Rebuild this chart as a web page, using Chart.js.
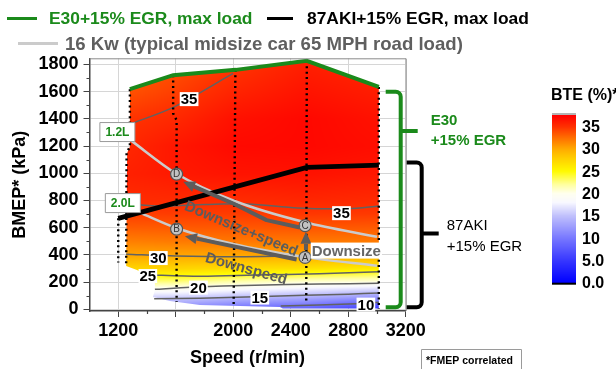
<!DOCTYPE html>
<html>
<head>
<meta charset="utf-8">
<script src="https://cdn.jsdelivr.net/npm/chart.js@4.4.1/dist/chart.umd.min.js"></script>
<style>
  html, body { margin: 0; padding: 0; background: #fff; }
</style>
</head>
<body>
<canvas id="bteMap" width="616" height="369"></canvas>
<script>
// ---- data ----
// BTE (%) map: rows follow BMEPS (kPa), columns follow SPEEDS (r/min)
const SPEEDS = [1250, 1600, 2000, 2500, 3000];
const BMEPS = [0, 100, 200, 300, 400, 500, 600, 700, 800, 1000, 1200, 1400, 1600, 1800];
const BTE = [
    [11, 11, 9, 8, 5],
    [16.5, 16.5, 15.5, 14.5, 13],
    [22.5, 22.5, 21.5, 20.5, 20.2],
    [27.5, 27.5, 27, 26.7, 26],
    [30.2, 30.2, 30.2, 30.1, 30],
    [31.8, 32, 32.1, 32.1, 32],
    [33.2, 33.3, 33.4, 33.5, 33.3],
    [34.4, 34.5, 34.5, 34.7, 34.6],
    [35.2, 35.3, 35.2, 35.5, 35.3],
    [35.8, 36.2, 36.5, 36.6, 36.3],
    [35.4, 36.3, 37, 37.1, 36.8],
    [34.8, 35.4, 36.6, 37.1, 36.6],
    [33.6, 34.4, 35.6, 36.5, 36],
    [33, 33.6, 34.7, 35.9, 35.4]
];

// max load lines
const E30_SPEED = [1281, 1582, 2018, 2512, 3013];
const E30_BMEP = [1618, 1721, 1760, 1826, 1635];
const AKI_SPEED = [1200, 2512, 3013];
const AKI_BMEP = [669, 1043, 1060];

// outline of the measured map below the E30 line (right, bottom, left sides)
const EDGE_SPEED = [3013, 2345, 2325, 1768, 1559, 1441, 1455, 1455, 1330, 1255, 1262, 1281];
const EDGE_BMEP = [6, 6, 17, 32, 61, 90, 142, 216, 289, 318, 1150, 1195];

// 16 kW road load
const RL12_SPEED = [1290, 1600, 2000, 2500, 3000];
const RL12_BMEP = [1240, 1000, 800, 640, 533];
const RL20_SPEED = [1350, 1600, 2000, 2500, 3000];
const RL20_BMEP = [711, 600, 480, 384, 320];

// BTE contour lines
const ISO35_TOP_SPEED = [1281, 1582, 1999];
const ISO35_TOP_BMEP = [1361, 1484, 1734];
const ISO35_SPEED = [1255, 1500, 1800, 2100, 2450, 2800, 3013];
const ISO35_BMEP = [775, 760, 770, 775, 745, 740, 760];
const ISO30_SPEED = [1255, 1600, 2000, 2450, 3013];
const ISO30_BMEP = [405, 392, 386, 392, 398];
const ISO25_SPEED = [1380, 1770, 2150, 2600, 3013];
const ISO25_BMEP = [255, 243, 252, 262, 276];
const ISO20_SPEED = [1455, 1700, 2150, 2600, 3013];
const ISO20_BMEP = [147, 162, 178, 186, 192];
const ISO15_SPEED = [1450, 1770, 2150, 2500, 2800, 3013];
const ISO15_BMEP = [78, 82, 93, 103, 112, 120];
const ISO10_SPEED = [2330, 2860, 3013];
const ISO10_BMEP = [24, 42, 52];

const ISO_LABEL_TEXT = ['35', '35', '30', '25', '20', '15', '10'];
const ISO_LABEL_SPEED = [1693, 2753, 1479, 1406, 1758, 2185, 2923];
const ISO_LABEL_BMEP = [1545, 707, 377, 245, 160, 87, 35];

// speed sweeps (dotted columns)
const SWEEP_SPEED = [[1200, 1200], [1281, 1281, 1258, 1255], [1582, 1582, 1606, 1606], [2015, 2003], [2512, 2508], [3013, 3013]];
const SWEEP_BMEP = [[669, 345], [1618, 1195, 1150, 330], [1721, 1440, 1390, 55], [1760, 30], [1826, 40], [1635, 5]];

// operating points
const POINT_NAME = ['A', 'B', 'C', 'D'];
const POINT_SPEED = [2500, 1606, 2500, 1606];
const POINT_BMEP = [382, 590, 615, 994];

// arrows: downspeed, downsize+speed, downsize
const ARROW_SPEED = [[2441, 1664], [2464, 2232, 2000, 1652], [2506, 2506]];
const ARROW_BMEP = [[367, 538], [602, 656, 778, 937], [436, 570]];

// axis ticks
const X_TICKS = [1200, 1600, 2000, 2400, 2800, 3200];
const X_TICK_LABELS = ['1200', '', '2000', '2400', '2800', '3200'];
const X_MINOR = [1400, 1800, 2200, 2600, 3000];
const Y_TICKS = [0, 200, 400, 600, 800, 1000, 1200, 1400, 1600, 1800];
const Y_MINOR = [100, 300, 500, 700, 900, 1100, 1300, 1500, 1700];
const CB_TICKS = [35, 30, 25, 20, 15, 10, 5, 0];
const CB_TICK_LABELS = ['35', '30', '25', '20', '15', '10', '5.0', '0.0'];

// ---- styles ----
const FONT = '"Liberation Sans", Arial, sans-serif';
const GREEN = '#1b8a1b';
const ISO_GRAY = '#626262';
const ROAD_GRAY = '#cbcbcb';
const ARROW_GRAY = '#5c5c5c';
const CMAP = [
    [0, [0, 0, 255]], [5, [55, 55, 255]], [10, [120, 120, 255]], [15, [192, 192, 252]],
    [18, [248, 248, 255]], [20, [255, 255, 238]], [22, [255, 255, 160]], [25, [255, 250, 0]],
    [28, [255, 205, 0]], [30, [255, 170, 0]], [32.5, [255, 110, 0]], [35, [255, 48, 0]], [37.5, [255, 0, 0]]
];

const pts = (xs, ys) => xs.map((x, i) => ({x: x, y: ys[i]}));

function segIndex(arr, v) {
    for (let i = 0; i < arr.length - 2; i++) if (v < arr[i + 1]) return i;
    return arr.length - 2;
}
const clamp01 = t => Math.max(0, Math.min(1, t));

function bteAt(s, b) {
    const ci = segIndex(SPEEDS, s), ri = segIndex(BMEPS, b);
    const ts = clamp01((s - SPEEDS[ci]) / (SPEEDS[ci + 1] - SPEEDS[ci]));
    const tb = clamp01((b - BMEPS[ri]) / (BMEPS[ri + 1] - BMEPS[ri]));
    const lo = BTE[ri][ci] * (1 - ts) + BTE[ri][ci + 1] * ts;
    const hi = BTE[ri + 1][ci] * (1 - ts) + BTE[ri + 1][ci + 1] * ts;
    return lo * (1 - tb) + hi * tb;
}

function colorFor(v) {
    if (v <= CMAP[0][0]) return CMAP[0][1];
    for (let i = 1; i < CMAP.length; i++) {
        if (v <= CMAP[i][0]) {
            const t = (v - CMAP[i - 1][0]) / (CMAP[i][0] - CMAP[i - 1][0]);
            const a = CMAP[i - 1][1], b = CMAP[i][1];
            return [a[0] + (b[0] - a[0]) * t, a[1] + (b[1] - a[1]) * t, a[2] + (b[2] - a[2]) * t];
        }
    }
    return CMAP[CMAP.length - 1][1];
}

function line(xs, ys, color, width, order, extra) {
    return Object.assign({
        data: pts(xs, ys), showLine: true, borderColor: color, borderWidth: width,
        pointRadius: 0, pointHoverRadius: 0, fill: false, order: order
    }, extra || {});
}

function boxedText(ctx, text, x, y, font, size, color, padX, padY, border) {
    ctx.font = font;
    const w = ctx.measureText(text).width;
    ctx.fillStyle = '#fff';
    ctx.fillRect(x - w / 2 - padX, y - size / 2 - padY, w + 2 * padX, size + 2 * padY);
    if (border) {
        ctx.strokeStyle = border;
        ctx.lineWidth = 1;
        ctx.strokeRect(x - w / 2 - padX, y - size / 2 - padY, w + 2 * padX, size + 2 * padY);
    }
    ctx.fillStyle = color;
    ctx.textAlign = 'center';
    ctx.textBaseline = 'middle';
    ctx.fillText(text, x, y + 1);
}

function arrow(ctx, P, color) {
    const n = P.length;
    const tx = P[n - 1][0], ty = P[n - 1][1];
    const ang = Math.atan2(ty - P[n - 2][1], tx - P[n - 2][0]);
    const headL = 12, headW = 11;
    const bx = tx - headL * Math.cos(ang), by = ty - headL * Math.sin(ang);
    ctx.strokeStyle = color;
    ctx.lineWidth = 4;
    ctx.lineJoin = 'round';
    ctx.lineCap = 'butt';
    ctx.beginPath();
    ctx.moveTo(P[0][0], P[0][1]);
    for (let k = 1; k < n - 1; k++) ctx.lineTo(P[k][0], P[k][1]);
    ctx.lineTo(bx, by);
    ctx.stroke();
    ctx.fillStyle = color;
    ctx.beginPath();
    ctx.moveTo(tx, ty);
    ctx.lineTo(bx + headW / 2 * Math.sin(ang), by - headW / 2 * Math.cos(ang));
    ctx.lineTo(bx - headW / 2 * Math.sin(ang), by + headW / 2 * Math.cos(ang));
    ctx.closePath();
    ctx.fill();
}

// colour map of the BTE field, clipped to the measured region
const heatmapPlugin = {
    id: 'heatmap',
    beforeDatasetsDraw(chart) {
        const ctx = chart.ctx, a = chart.chartArea, x = chart.scales.x, y = chart.scales.y;
        const w = Math.ceil(a.right - a.left), h = Math.ceil(a.bottom - a.top);
        const off = document.createElement('canvas');
        off.width = w;
        off.height = h;
        const octx = off.getContext('2d');
        const img = octx.createImageData(w, h);
        for (let j = 0; j < h; j++) {
            const b = y.getValueForPixel(a.top + j + 0.5);
            for (let i = 0; i < w; i++) {
                const c = colorFor(bteAt(x.getValueForPixel(a.left + i + 0.5), b));
                const k = (j * w + i) * 4;
                img.data[k] = c[0];
                img.data[k + 1] = c[1];
                img.data[k + 2] = c[2];
                img.data[k + 3] = 255;
            }
        }
        octx.putImageData(img, 0, 0);
        const outlineS = E30_SPEED.concat(EDGE_SPEED), outlineB = E30_BMEP.concat(EDGE_BMEP);
        ctx.save();
        ctx.beginPath();
        outlineS.forEach((s, k) => {
            const px = x.getPixelForValue(s), py = y.getPixelForValue(outlineB[k]);
            if (k) ctx.lineTo(px, py); else ctx.moveTo(px, py);
        });
        ctx.closePath();
        ctx.clip();
        ctx.drawImage(off, a.left, a.top);
        ctx.restore();
    }
};

const notesPlugin = {
    id: 'notes',
    afterDatasetsDraw(chart) {
        const ctx = chart.ctx, x = chart.scales.x, y = chart.scales.y;
        const X = s => x.getPixelForValue(s), Y = b => y.getPixelForValue(b);
        ctx.save();
        // contour labels
        ISO_LABEL_TEXT.forEach((t, i) => {
            boxedText(ctx, t, X(ISO_LABEL_SPEED[i]), Y(ISO_LABEL_BMEP[i]), 'bold 15px ' + FONT, 14, '#000', 1, 0);
        });
        // arrows
        ARROW_SPEED.forEach((ss, i) => {
            arrow(ctx, ss.map((s, k) => [X(s), Y(ARROW_BMEP[i][k])]), ARROW_GRAY);
        });
        // letters in the operating point circles
        const meta = chart.getDatasetMeta(0);
        ctx.font = '10px ' + FONT;
        ctx.fillStyle = '#333';
        ctx.textAlign = 'center';
        ctx.textBaseline = 'middle';
        meta.data.forEach((el, i) => ctx.fillText(POINT_NAME[i], el.x, el.y + 0.5));
        // arrow captions
        const rot = [['Downsize+speed', 2054, 590, 22.6], ['Downspeed', 2090, 296, 15.5]];
        ctx.font = 'bold 15px ' + FONT;
        ctx.fillStyle = ARROW_GRAY;
        rot.forEach(r => {
            ctx.save();
            ctx.translate(X(r[1]), Y(r[2]));
            ctx.rotate(r[3] * Math.PI / 180);
            ctx.fillText(r[0], 0, 0);
            ctx.restore();
        });
        boxedText(ctx, 'Downsize', X(2787), Y(432), 'bold 15px ' + FONT, 14, '#666', 1, 1);
        // displacement labels
        boxedText(ctx, '1.2L', X(1194), Y(1303), 'bold 12px ' + FONT, 12, GREEN, 5.5, 3.5, '#9a9a9a');
        boxedText(ctx, '2.0L', X(1232), Y(781), 'bold 12px ' + FONT, 12, GREEN, 5.5, 3.5, '#9a9a9a');
        ctx.restore();
    },
    afterDraw(chart) {
        const ctx = chart.ctx, a = chart.chartArea, x = chart.scales.x, y = chart.scales.y;
        ctx.save();
        // frame top / right
        ctx.strokeStyle = '#8a8a8a';
        ctx.lineWidth = 1;
        ctx.beginPath();
        ctx.moveTo(a.left, a.top + 0.5);
        ctx.lineTo(a.right + 0.5, a.top + 0.5);
        ctx.lineTo(a.right + 0.5, a.bottom);
        ctx.stroke();
        // minor ticks
        ctx.strokeStyle = '#444';
        ctx.lineWidth = 1.2;
        ctx.beginPath();
        Y_MINOR.forEach(v => { const p = Math.round(y.getPixelForValue(v)) + 0.5; ctx.moveTo(a.left - 3, p); ctx.lineTo(a.left, p); });
        X_MINOR.forEach(v => { const p = Math.round(x.getPixelForValue(v)) + 0.5; ctx.moveTo(p, a.bottom); ctx.lineTo(p, a.bottom + 3); });
        ctx.stroke();

        // brackets
        const r = a.right;
        function bracket(x0, x1, top, bottom, tabY, tabX, color) {
            ctx.strokeStyle = color;
            ctx.lineWidth = 4;
            ctx.lineJoin = 'round';
            ctx.beginPath();
            ctx.moveTo(x0, top);
            ctx.arcTo(x1, top, x1, bottom, 5);
            ctx.arcTo(x1, bottom, x0, bottom, 5);
            ctx.lineTo(x0, bottom);
            ctx.moveTo(x1, tabY);
            ctx.lineTo(tabX, tabY);
            ctx.stroke();
        }
        bracket(r - 20, r - 5, y.getPixelForValue(1600), y.getPixelForValue(15), y.getPixelForValue(1310), r + 12, GREEN);
        bracket(r + 1, r + 16, y.getPixelForValue(1080), y.getPixelForValue(15), y.getPixelForValue(558), r + 33, '#000');
        ctx.textAlign = 'left';
        ctx.textBaseline = 'middle';
        ctx.font = 'bold 15px ' + FONT;
        ctx.fillStyle = GREEN;
        ctx.fillText('E30', r + 25, 121);
        ctx.fillText('+15% EGR', r + 25, 141);
        ctx.font = '15px ' + FONT;
        ctx.fillStyle = '#000';
        ctx.fillText('87AKI', r + 41, 226);
        ctx.fillText('+15% EGR', r + 41, 247);

        // colour bar
        const cbX = 552, cbW = 24, cb0 = 282.7, cbPer = 4.457, cbTop = 115;
        for (let py = cbTop; py < cb0; py++) {
            const c = colorFor((cb0 - py - 0.5) / cbPer);
            ctx.fillStyle = 'rgb(' + c.map(Math.round).join(',') + ')';
            ctx.fillRect(cbX, py, cbW, 1);
        }
        ctx.fillStyle = '#b4b4b4';
        ctx.fillRect(cbX, cbTop - 2, cbW, 2);
        ctx.fillStyle = '#000';
        ctx.fillRect(cbX, cb0, cbW, 2);
        ctx.font = 'bold 16px ' + FONT;
        ctx.fillText('BTE (%)*', 551, 96);
        CB_TICKS.forEach((v, i) => ctx.fillText(CB_TICK_LABELS[i], 582, cb0 - v * cbPer + 1));

        // legend
        function legendItem(x0, len, tx, ty, color, lineColor, text, size) {
            ctx.strokeStyle = lineColor;
            ctx.lineWidth = 3;
            ctx.beginPath();
            ctx.moveTo(x0, ty);
            ctx.lineTo(x0 + len, ty);
            ctx.stroke();
            ctx.font = 'bold ' + size + 'px ' + FONT;
            ctx.fillStyle = color;
            ctx.fillText(text, tx, ty + 1);
        }
        legendItem(7, 30, 49, 18.5, GREEN, GREEN, 'E30+15% EGR, max load', 17.4);
        legendItem(267, 26, 307, 18.5, '#000', '#000', '87AKI+15% EGR, max load', 17.4);
        legendItem(18, 40, 65, 43.5, '#5f5f5f', ROAD_GRAY, '16 Kw (typical midsize car 65 MPH road load)', 18.6);

        // footnote
        ctx.strokeStyle = '#9a9a9a';
        ctx.lineWidth = 1;
        ctx.strokeRect(421.5, 349.5, 100, 24);
        ctx.font = 'bold 10.5px ' + FONT;
        ctx.fillStyle = '#000';
        ctx.fillText('*FMEP correlated', 426, 361);
        ctx.restore();
    }
};

const sweepSets = SWEEP_SPEED.map((ss, i) => line(ss, SWEEP_BMEP[i], '#000', 2.4, 4, {borderDash: [2, 3.4], borderCapStyle: 'butt'}));
const isoSets = [
    [ISO35_TOP_SPEED, ISO35_TOP_BMEP], [ISO35_SPEED, ISO35_BMEP], [ISO30_SPEED, ISO30_BMEP],
    [ISO25_SPEED, ISO25_BMEP], [ISO20_SPEED, ISO20_BMEP], [ISO15_SPEED, ISO15_BMEP], [ISO10_SPEED, ISO10_BMEP]
].map(p => line(p[0], p[1], ISO_GRAY, 1.5, 6, {tension: 0.3}));

const tickFont = {family: FONT, size: 18, weight: 'bold'};

new Chart(document.getElementById('bteMap').getContext('2d'), {
    type: 'scatter',
    data: {
        datasets: [
            {
                data: pts(POINT_SPEED, POINT_BMEP), pointRadius: 6, pointHoverRadius: 6,
                pointBackgroundColor: '#c2c2c2', pointBorderColor: '#555', pointBorderWidth: 1.2, order: 0
            },
            line(E30_SPEED, E30_BMEP, GREEN, 4, 1),
            line(AKI_SPEED, AKI_BMEP, '#000', 4.8, 2),
            line(RL12_SPEED, RL12_BMEP, ROAD_GRAY, 2.5, 3, {cubicInterpolationMode: 'monotone'}),
            line(RL20_SPEED, RL20_BMEP, ROAD_GRAY, 2.5, 3, {cubicInterpolationMode: 'monotone'}),
            ...sweepSets,
            ...isoSets
        ]
    },
    options: {
        responsive: false,
        animation: false,
        devicePixelRatio: 1,
        events: [],
        layout: {padding: {top: 58.3, right: 210.3, left: 0, bottom: 0}},
        plugins: {legend: {display: false}, tooltip: {enabled: false}},
        scales: {
            x: {
                type: 'linear', min: 1000, max: 3200,
                afterFit: s => { s.height = 58; },
                afterBuildTicks: s => { s.ticks = X_TICKS.map(v => ({value: v})); },
                ticks: {callback: (v, i) => X_TICK_LABELS[i], font: tickFont, color: '#000', padding: 3, maxRotation: 0, autoSkip: false},
                grid: {color: '#d6d6d6', tickColor: '#444', tickLength: 6, lineWidth: 1},
                border: {color: '#444', width: 1.5},
                title: {display: true, text: 'Speed (r/min)', font: tickFont, color: '#000', padding: {top: 0, bottom: 0}}
            },
            y: {
                type: 'linear', min: -12, max: 1845,
                afterFit: s => { s.width = 89.5; },
                afterBuildTicks: s => { s.ticks = Y_TICKS.map(v => ({value: v})); },
                ticks: {callback: v => String(v), font: tickFont, color: '#000', padding: 5, autoSkip: false},
                grid: {color: '#d6d6d6', tickColor: '#444', tickLength: 6, lineWidth: 1},
                border: {color: '#444', width: 1.5},
                title: {display: true, text: 'BMEP* (kPa)', font: tickFont, color: '#000', padding: {top: 9, bottom: 0}}
            }
        }
    },
    plugins: [heatmapPlugin, notesPlugin]
});
</script>
</body>
</html>
